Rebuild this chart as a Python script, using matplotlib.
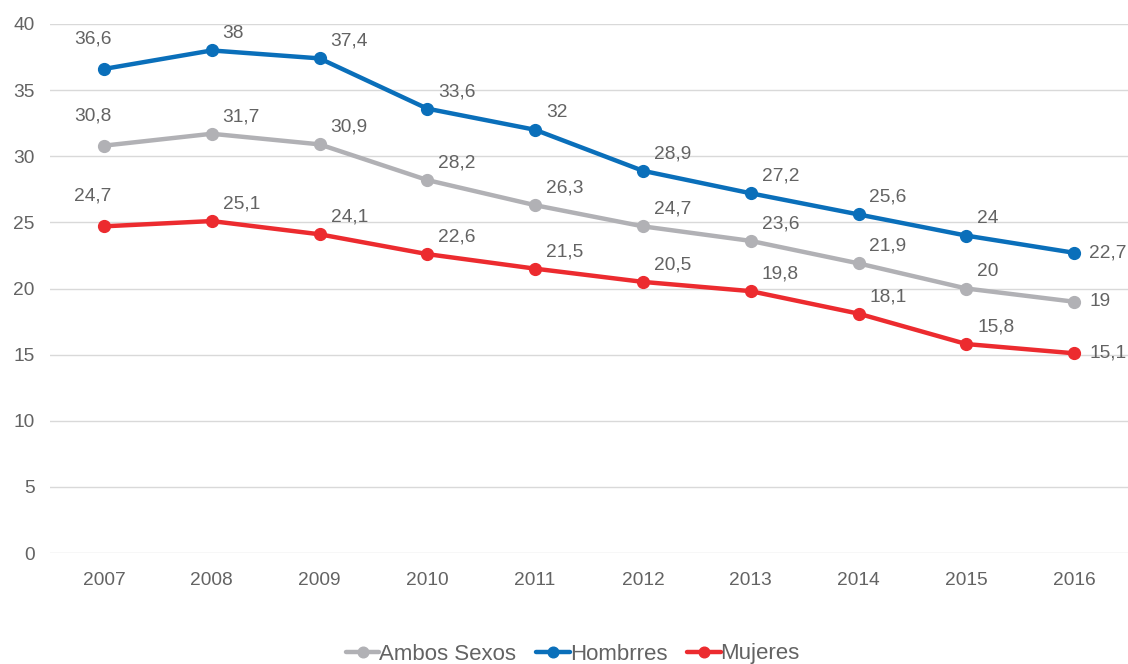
import matplotlib
matplotlib.use("Agg")
import matplotlib.pyplot as plt

years = [2007, 2008, 2009, 2010, 2011, 2012, 2013, 2014, 2015, 2016]
ambos = [30.8, 31.7, 30.9, 28.2, 26.3, 24.7, 23.6, 21.9, 20.0, 19.0]
hombres = [36.6, 38.0, 37.4, 33.6, 32.0, 28.9, 27.2, 25.6, 24.0, 22.7]
mujeres = [24.7, 25.1, 24.1, 22.6, 21.5, 20.5, 19.8, 18.1, 15.8, 15.1]
series_names = ["Ambos Sexos", "Hombrres", "Mujeres"]
colors = ["#B1B1B5", "#0A6FBA", "#EC2B2F"]
yticks = [0, 5, 10, 15, 20, 25, 30, 35, 40]

plt.rcParams['font.family'] = ['Liberation Sans', 'DejaVu Sans']
txt = "#636363"

fig = plt.figure(figsize=(11.28, 6.64), dpi=100)
ax = fig.add_axes([50/1128, 111/664, 1078/1128, 529/664])

for vals, name, c in zip([ambos, hombres, mujeres], series_names, colors):
    ax.plot(years, vals, color=c, lw=3.2, marker='o', ms=8.5, label=name,
            solid_capstyle='round', zorder=3)
    for i, (x, v) in enumerate(zip(years, vals)):
        s = f"{v:g}".replace('.', ',')
        if i == 0:
            ax.annotate(s, (x, v), xytext=(-11, 30), textcoords='offset pixels',
                        ha='center', va='center', fontsize=13.8, color=txt)
        elif i == len(years) - 1:
            ax.annotate(s, (x, v), xytext=(15, 0), textcoords='offset pixels',
                        ha='left', va='center', fontsize=13.8, color=txt)
        else:
            ax.annotate(s, (x, v), xytext=(11, 17), textcoords='offset pixels',
                        ha='left', va='center', fontsize=13.8, color=txt)

ax.set_xlim(2006.5, 2016.5)
ax.set_ylim(0, 40)
ax.set_yticks(yticks)
ax.set_xticks(years)
ax.grid(axis='y', color='#D9D9D9', lw=1)
ax.set_axisbelow(True)
for sp in ax.spines.values():
    sp.set_visible(False)
ax.tick_params(length=0, labelsize=13.8, labelcolor=txt)
ax.tick_params(axis='y', pad=11)
ax.tick_params(axis='x', pad=14)

fig.legend(loc='center', bbox_to_anchor=(573/1128, 1 - 654/664), ncol=3,
           frameon=False, fontsize=16, labelcolor=txt, handlelength=1.5,
           handletextpad=0.0, columnspacing=0.9, markerscale=0.9)

fig.savefig("out.png", dpi=100)
